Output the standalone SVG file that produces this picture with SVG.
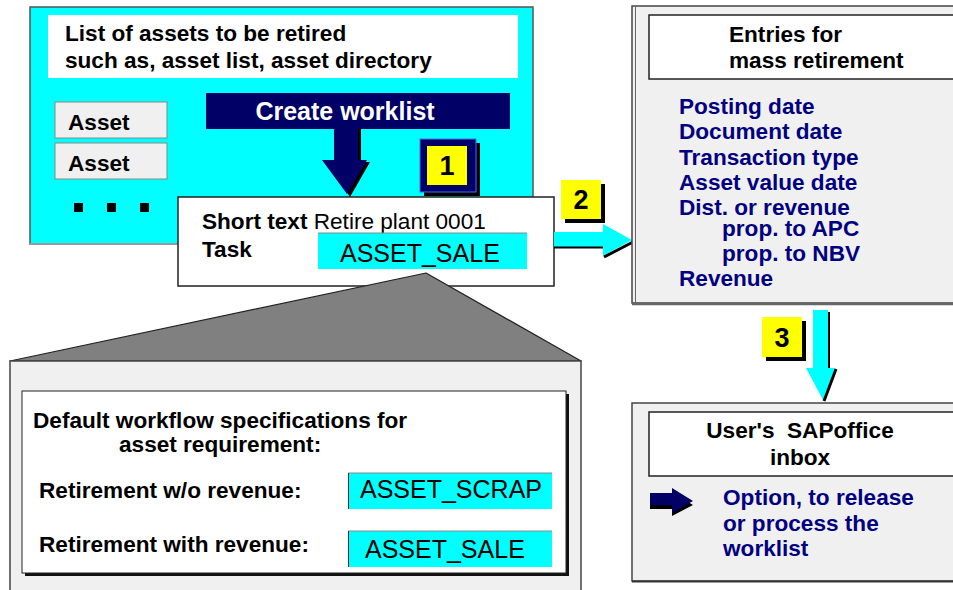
<svg xmlns="http://www.w3.org/2000/svg" width="953" height="590" viewBox="0 0 953 590">
<style>
text{font-family:"Liberation Sans",Arial,sans-serif;}
.b{font-weight:bold;font-size:22.6px;fill:#000;}
.r{font-size:22.6px;fill:#000;}
.blue{font-weight:bold;font-size:22.6px;fill:#000080;}
.code{font-size:25px;fill:#000;}
.num{font-weight:bold;font-size:27px;fill:#000;text-anchor:middle;}
.panel{fill:#f0f0f0;stroke:#444;stroke-width:1.5;}
.wbox{fill:#fff;stroke:#222;stroke-width:1.5;}
</style>
<rect width="953" height="590" fill="#fff"/>

<g id="worklist-panel">
  <rect x="30" y="7" width="503" height="237" fill="#00ffff" stroke="#555" stroke-width="1.5"/>
  <line x1="30" y1="244" x2="533" y2="244" stroke="#999" stroke-width="2"/>
  <rect x="48" y="15" width="470" height="63" fill="#fff"/>
  <text class="b" x="65" y="41">List of assets to be retired</text>
  <text class="b" x="65" y="68">such as, asset list, asset directory</text>
</g>

<g id="asset-1">
  <rect x="55" y="102" width="112" height="36" fill="#f0f0f0" stroke="#888" stroke-width="1"/>
  <text class="b" x="68" y="130">Asset</text>
</g>
<g id="asset-2">
  <rect x="55" y="143" width="112" height="36" fill="#f0f0f0" stroke="#888" stroke-width="1"/>
  <text class="b" x="68" y="171">Asset</text>
</g>
<g id="more-dots">
  <rect x="74" y="203" width="9" height="9" fill="#000"/>
  <rect x="107" y="203" width="9" height="9" fill="#000"/>
  <rect x="140" y="203" width="9" height="9" fill="#000"/>
</g>

<g id="create-worklist">
  <rect x="206" y="93" width="304" height="36" fill="#000066"/>
  <text x="345" y="120" text-anchor="middle" style="font-weight:bold;font-size:25px;fill:#fff;">Create worklist</text>
</g>

<g id="step-1">
  <rect x="424" y="143" width="56" height="53" fill="#000"/>
  <rect x="420" y="139" width="56" height="53" fill="#000066" stroke="#4a6cff" stroke-width="1"/>
  <rect x="427" y="146" width="40" height="39" fill="#ffff00"/>
  <text class="num" x="447" y="175">1</text>
</g>

<g id="short-text-box">
  <rect x="178" y="197" width="376" height="89" class="wbox"/>
  <text x="202" y="229"><tspan class="b">Short text</tspan><tspan class="r"> Retire plant 0001</tspan></text>
  <text class="b" x="202" y="257">Task</text>
  <rect x="318" y="233" width="209" height="36" fill="#00ffff"/>
  <line x1="318" y1="233" x2="527" y2="233" stroke="#888" stroke-width="1"/>
  <text class="code" x="340" y="262">ASSET_SALE</text>
</g>

<g id="connectors">
  <g id="arrow-1">
    <polygon points="337,128 361,128 361,162 370,162 350,197 326,162 334,162" fill="#000"/>
    <polygon points="334,128 358,128 358,160 367,160 347,194 322,160 334,160" fill="#000066"/>
  </g>
  <g id="arrow-2">
    <rect x="554" y="232" width="49" height="15" fill="#00ffff"/>
    <line x1="554" y1="247.5" x2="603" y2="247.5" stroke="#000" stroke-width="2"/>
    <polygon points="603,224 632,240 603,256" fill="#00ffff"/>
    <line x1="604" y1="257" x2="633" y2="242" stroke="#000" stroke-width="3"/>
  </g>
  <g id="arrow-3">
    <rect x="813" y="310" width="15" height="58" fill="#00ffff"/>
    <line x1="829" y1="312" x2="829" y2="368" stroke="#000" stroke-width="2"/>
    <polygon points="806,368 835,368 823,400" fill="#00ffff"/>
    <line x1="836" y1="369" x2="824" y2="401" stroke="#000" stroke-width="3"/>
  </g>
  <polygon id="callout" points="426,273 10,361 581,361" fill="#808080" stroke="#222" stroke-width="1.2" stroke-linejoin="round"/>
</g>

<g id="step-2">
  <rect x="565" y="184" width="40" height="39" fill="#000"/>
  <rect x="561" y="180" width="40" height="39" fill="#ffff00"/>
  <text class="num" x="581" y="209">2</text>
</g>

<g id="step-3">
  <rect x="766" y="321" width="40" height="40" fill="#000"/>
  <rect x="762" y="317" width="40" height="40" fill="#ffff00"/>
  <text class="num" x="782" y="347">3</text>
</g>

<g id="entries-panel">
  <rect x="632" y="6" width="330" height="297" class="panel"/>
  <line x1="635.5" y1="6" x2="635.5" y2="303" stroke="#666" stroke-width="1"/>
  <line x1="632" y1="304" x2="962" y2="304" stroke="#666" stroke-width="2.5"/>
  <rect x="649" y="15" width="320" height="64" class="wbox"/>
  <text class="b" x="729" y="42">Entries for</text>
  <text class="b" x="729" y="68">mass retirement</text>
  <text class="blue" x="679" y="114">Posting date</text>
  <text class="blue" x="679" y="139">Document date</text>
  <text class="blue" x="679" y="165">Transaction type</text>
  <text class="blue" x="679" y="190">Asset value date</text>
  <text class="blue" x="679" y="215">Dist. or revenue</text>
  <text class="blue" x="722" y="236">prop. to APC</text>
  <text class="blue" x="722" y="261">prop. to NBV</text>
  <text class="blue" x="679" y="286">Revenue</text>
</g>

<g id="inbox-panel">
  <rect x="632" y="403" width="330" height="178" class="panel"/>
  <line x1="632" y1="581.5" x2="962" y2="581.5" stroke="#333" stroke-width="2"/>
  <rect x="649" y="412" width="320" height="64" class="wbox"/>
  <text class="b" x="800" y="438" text-anchor="middle" xml:space="preserve">User's  SAPoffice</text>
  <text class="b" x="800" y="465" text-anchor="middle">inbox</text>
  <polygon points="650,497 672,497 672,492 693,505 672,516 672,509 650,509" fill="#000"/>
  <polygon points="650,493 672,493 672,488 693,501 672,513 672,505 650,505" fill="#000066"/>
  <text class="blue" x="723" y="505">Option, to release</text>
  <text class="blue" x="723" y="531">or process the</text>
  <text class="blue" x="723" y="556">worklist</text>
</g>

<g id="workflow-defaults">
  <rect x="10" y="361" width="571" height="240" class="panel"/>
  <rect x="25" y="394" width="544" height="182" fill="#111"/>
  <rect x="22" y="391" width="544" height="182" fill="#fff" stroke="#222" stroke-width="1"/>
  <text class="b" x="33" y="428">Default workflow specifications for</text>
  <text class="b" x="119" y="452">asset requirement:</text>
  <text class="b" x="39" y="498">Retirement w/o revenue:</text>
  <rect x="348" y="473" width="204" height="36" fill="#00ffff"/>
  <line x1="348" y1="473" x2="552" y2="473" stroke="#888"/>
  <line x1="348.5" y1="473" x2="348.5" y2="509" stroke="#333"/>
  <text class="code" x="360" y="498">ASSET_SCRAP</text>
  <text class="b" x="39" y="552">Retirement with revenue:</text>
  <rect x="348" y="531" width="204" height="36" fill="#00ffff"/>
  <line x1="348" y1="531" x2="552" y2="531" stroke="#888"/>
  <line x1="348.5" y1="531" x2="348.5" y2="567" stroke="#333"/>
  <text class="code" x="365" y="558">ASSET_SALE</text>
</g>
</svg>
